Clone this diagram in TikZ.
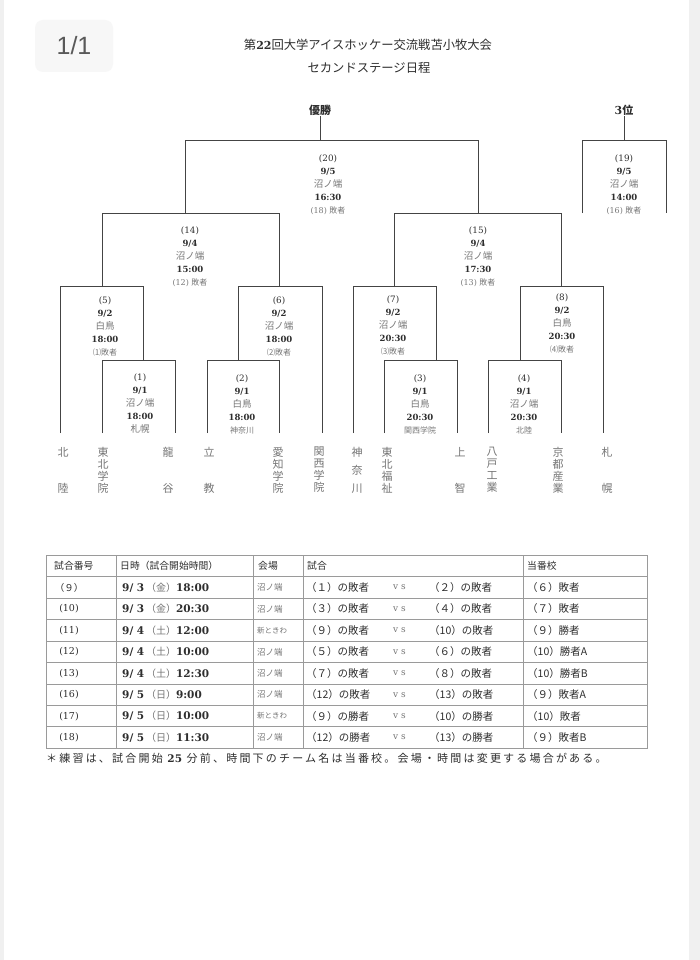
\documentclass[tikz,border=0pt]{standalone}
\usepackage{fontspec}
\setmainfont{DejaVu Serif}
\setsansfont{Liberation Sans}
\newfontfamily\jp{Noto Sans CJK JP}
\newfontfamily\jpnote{Noto Sans CJK JP}[LetterSpace=20]
\definecolor{ink}{HTML}{2E2E2E}
\definecolor{soft}{HTML}{767676}
\definecolor{rulec}{HTML}{444444}
\definecolor{tablec}{HTML}{9A9A9A}
\newcommand{\mlabel}[5]{(#1)\\{\bfseries\fontsize{8.5}{13}\selectfont #2}\\{\jp\fontsize{9.5}{13}\selectfont\color{soft}#3}\\{\bfseries\fontsize{8.5}{13}\selectfont #4}\\{\fontsize{8}{9}\selectfont\color{soft}#5}}
\newcommand{\jpn}[1]{{\jp #1}}
\tikzset{
  bracket/.style={draw=rulec, line width=0.95pt},
  matchlbl/.style={align=center, inner sep=0pt, text=ink, font=\fontsize{8.8}{13}\selectfont},
  team/.style={anchor=north, align=center, inner sep=0pt, text=soft, font=\jp\fontsize{11}{12}\selectfont},
  cell/.style={anchor=west, inner sep=0pt, text=ink, font=\jp\fontsize{10.5}{11}\selectfont},
  tline/.style={draw=tablec, line width=0.8pt},
}
\begin{document}
\begin{tikzpicture}[x=1pt, y=-1pt]
  % 背景
  \fill[gray!12] (0,0) rectangle (700,960);
  \fill[white] (4,0) rectangle (689,960);
  % ページ番号
  \node[fill=gray!6, rounded corners=8pt, minimum width=78pt, minimum height=52pt,
        text=gray!70!black, font=\sffamily\fontsize{25}{25}\selectfont] (page) at (74,46) {1/1};
  % 表題
  \node[text=ink, font=\jp\fontsize{12.3}{13}\selectfont] (title) at (368,45)
    {第{\rmfamily\bfseries\fontsize{11}{13}\selectfont 22}回大学アイスホッケー交流戦苫小牧大会};
  \node[text=ink, font=\jp\fontsize{12.3}{13}\selectfont] (subtitle) at (369,68) {セカンドステージ日程};
  % 優勝・3位
  \node[inner sep=1pt, text=ink, font=\jp\bfseries\fontsize{11}{12}\selectfont] (win) at (320,110) {優勝};
  \node[inner sep=1pt, text=ink, font=\jp\bfseries\fontsize{11}{12}\selectfont] (third) at (624,110) {{\rmfamily 3}位};
  \coordinate (top20) at (320,140);
  \coordinate (top19) at (624,140);
  \draw[bracket] (win) -- (top20);
  \draw[bracket] (third) -- (top19);
  % 決勝・3位決定戦
  \draw[bracket] (185,213) -- (185,140) -- (478,140) -- (478,213);
  \draw[bracket] (582,213) -- (582,140) -- (666,140) -- (666,213);
  % 準決勝
  \draw[bracket] (102,287) -- (102,213) -- (279,213) -- (279,287);
  \draw[bracket] (394,287) -- (394,213) -- (561,213) -- (561,287);
  % 2回戦
  \draw[bracket] (60,433) -- (60,286) -- (143,286) -- (143,360);
  \draw[bracket] (238,360) -- (238,286) -- (322,286) -- (322,433);
  \draw[bracket] (353,433) -- (353,286) -- (436,286) -- (436,360);
  \draw[bracket] (520,360) -- (520,286) -- (603,286) -- (603,433);
  % 1回戦
  \draw[bracket] (102,433) -- (102,360) -- (175,360) -- (175,433);
  \draw[bracket] (207,433) -- (207,360) -- (279,360) -- (279,433);
  \draw[bracket] (384,433) -- (384,360) -- (457,360) -- (457,433);
  \draw[bracket] (488,433) -- (488,360) -- (561,360) -- (561,433);
  % 試合ラベル
  \node[matchlbl] (m20) at (328,185) {\mlabel{20}{9/5}{沼ノ端}{16:30}{(18) \jpn{敗者}}};
  \node[matchlbl] (m19) at (624,185) {\mlabel{19}{9/5}{沼ノ端}{14:00}{(16) \jpn{敗者}}};
  \node[matchlbl] (m14) at (190,257) {\mlabel{14}{9/4}{沼ノ端}{15:00}{(12) \jpn{敗者}}};
  \node[matchlbl] (m15) at (478,257) {\mlabel{15}{9/4}{沼ノ端}{17:30}{(13) \jpn{敗者}}};
  \node[matchlbl] (m5) at (105,326) {\mlabel{5}{9/2}{白鳥}{18:00}{\jpn{⑴敗者}}};
  \node[matchlbl] (m6) at (279,326) {\mlabel{6}{9/2}{沼ノ端}{18:00}{\jpn{⑵敗者}}};
  \node[matchlbl] (m7) at (393,325) {\mlabel{7}{9/2}{沼ノ端}{20:30}{\jpn{⑶敗者}}};
  \node[matchlbl] (m8) at (562,323) {\mlabel{8}{9/2}{白鳥}{20:30}{\jpn{⑷敗者}}};
  \node[matchlbl] (m1) at (140,404) {\mlabel{1}{9/1}{沼ノ端}{18:00}{\jpn{\fontsize{9.5}{9}\selectfont 札幌}}};
  \node[matchlbl] (m2) at (242,405) {\mlabel{2}{9/1}{白鳥}{18:00}{\jpn{神奈川}}};
  \node[matchlbl] (m3) at (420,404) {\mlabel{3}{9/1}{白鳥}{20:30}{\jpn{関西学院}}};
  \node[matchlbl] (m4) at (524,404) {\mlabel{4}{9/1}{沼ノ端}{20:30}{\jpn{北陸}}};
  % 出場校
  \node[team] (hokuriku) at (63,447) {北\\[24pt]陸};
  \node[team] (tgakuin) at (103,447) {東\\北\\学\\院};
  \node[team] (ryukoku) at (168,447) {龍\\[24pt]谷};
  \node[team] (rikkyo) at (209,447) {立\\[24pt]教};
  \node[team] (aichi) at (278,447) {愛\\知\\学\\院};
  \node[team] (kansai) at (319,447) {関\\西\\学\\院};
  \node[team] (kanagawa) at (357,447) {神\\[6pt]奈\\[6pt]川};
  \node[team] (tfukushi) at (387,447) {東\\北\\福\\祉};
  \node[team] (sophia) at (460,447) {上\\[24pt]智};
  \node[team] (hachinohe) at (492,447) {八\\戸\\工\\業};
  \node[team] (kyoto) at (558,447) {京\\都\\産\\業};
  \node[team] (sapporo) at (607,447) {札\\[24pt]幌};
  % 日程表
  \def\rowh{21.45}
  \draw[tline] (46,555) rectangle (647,748.3);
  \foreach \x in {116,253,303,523} \draw[tline] (\x,555) -- (\x,748.3);
  \foreach \i in {0,...,7} \draw[tline] (46,{576.7+\i*\rowh}) -- (647,{576.7+\i*\rowh});
  \node[cell, font=\jp\fontsize{9.8}{11}\selectfont] (hnum) at (54,566) {試合番号};
  \node[cell, font=\jp\fontsize{9.8}{11}\selectfont] (hdate) at (120,566) {日時（試合開始時間）};
  \node[cell, font=\jp\fontsize{9.8}{11}\selectfont] (hvenue) at (258,566) {会場};
  \node[cell, font=\jp\fontsize{9.8}{11}\selectfont] (hgame) at (307,566) {試合};
  \node[cell, font=\jp\fontsize{9.8}{11}\selectfont] (hduty) at (527,566) {当番校};
  \foreach \n/\d/\w/\t/\v/\a/\b/\c [count=\i from 0] in {
      {（９）}/3/金/18:00/沼ノ端/（１）の敗者/（２）の敗者/（６）敗者,
      {\rmfamily (10)}/3/金/20:30/沼ノ端/（３）の敗者/（４）の敗者/（７）敗者,
      {\rmfamily (11)}/4/土/12:00/{\fontsize{7.5}{8}\selectfont 新ときわ}/（９）の敗者/（10）の敗者/（９）勝者,
      {\rmfamily (12)}/4/土/10:00/沼ノ端/（５）の敗者/（６）の敗者/（10）勝者A,
      {\rmfamily (13)}/4/土/12:30/沼ノ端/（７）の敗者/（８）の敗者/（10）勝者B,
      {\rmfamily (16)}/5/日/9:00/沼ノ端/（12）の敗者/（13）の敗者/（９）敗者A,
      {\rmfamily (17)}/5/日/10:00/{\fontsize{7.5}{8}\selectfont 新ときわ}/（９）の勝者/（10）の勝者/（10）敗者,
      {\rmfamily (18)}/5/日/11:30/沼ノ端/（12）の勝者/（13）の勝者/（９）敗者B}{
    \pgfmathsetmacro\yy{576.7+(\i+0.5)*\rowh}
    \node[cell, anchor=center, font=\jp\fontsize{9.5}{11}\selectfont] (num\i) at (69,\yy) {\n};
    \node[cell] (date\i) at (122,\yy)
      {{\rmfamily\bfseries\fontsize{10.5}{12}\selectfont 9/ \d}\,{\color{soft}\fontsize{10}{11}\selectfont（\w）}{\rmfamily\bfseries\fontsize{10.5}{12}\selectfont \t}};
    \node[cell, text=soft, font=\jp\fontsize{8.5}{10}\selectfont] (venue\i) at (257,\yy) {\v};
    \node[cell] (left\i) at (306,\yy) {\a};
    \node[cell, text=soft, font=\rmfamily\fontsize{9}{11}\selectfont] (vs\i) at (393,\yy) {v s};
    \node[cell] (right\i) at (429,\yy) {\b};
    \node[cell] (duty\i) at (527,\yy) {\c};
  }
  % 注記
  \node[cell, font=\jpnote\fontsize{11}{13}\selectfont] (note) at (46,758)
    {＊練習は、試合開始 {\rmfamily\bfseries\fontsize{10.5}{13}\selectfont 25} 分前、時間下のチーム名は当番校。会場・時間は変更する場合がある。};
\end{tikzpicture}
\end{document}
